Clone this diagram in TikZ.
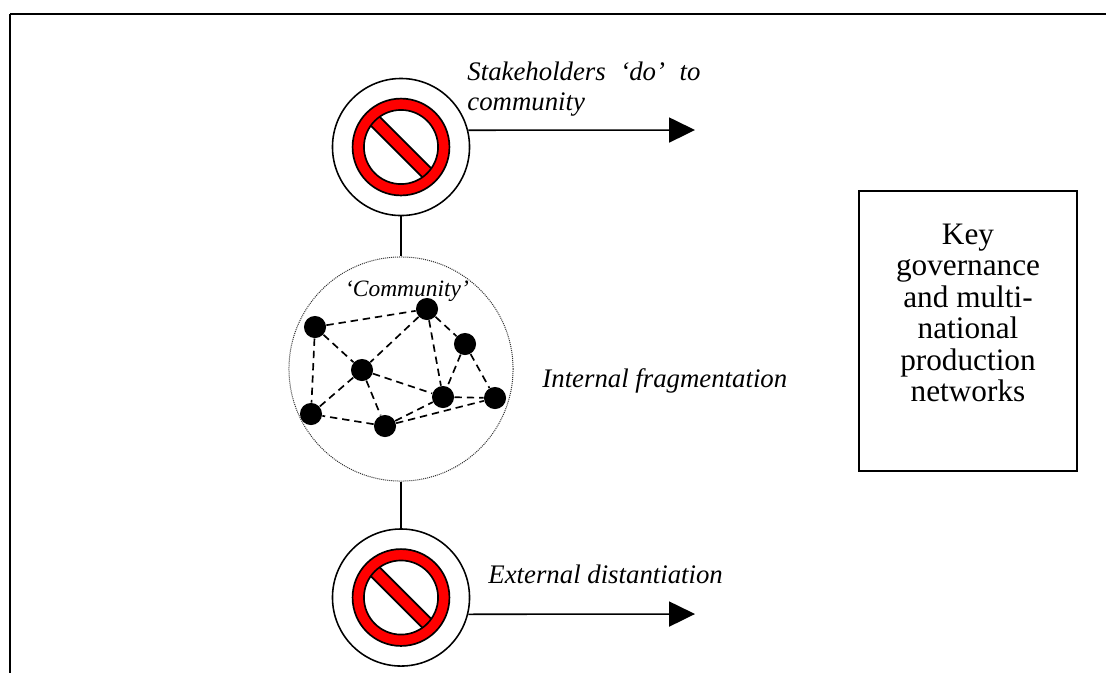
\documentclass[tikz,border=0pt]{standalone}
\usepackage{fontspec}
\setmainfont{Liberation Serif}
\usetikzlibrary{arrows.meta,positioning}

\begin{document}
\begin{tikzpicture}[x=0.448pt,y=-0.448pt,
    sign/.style={draw,circle,fill=white,line width=0.7pt,minimum size=61.4pt,inner sep=0pt},
    commcircle/.style={draw=black!80,circle,line width=0.45pt,dash pattern=on 0.45pt off 0.45pt,minimum size=100.4pt,inner sep=0pt},
    member/.style={circle,fill=black,minimum size=9.9pt,inner sep=0pt},
    tie/.style={line width=0.75pt,dash pattern=on 3.3pt off 2.2pt},
    arr/.style={line width=0.7pt,-{Triangle[length=11.6pt,width=11.2pt]}},
    label/.style={font=\fontsize{12}{13.4}\selectfont\itshape,inner sep=0pt},
    keybox/.style={draw,rectangle,line width=0.6pt,minimum width=97.7pt,minimum height=125.4pt,inner sep=0pt},
    keytext/.style={font=\fontsize{14}{14.1}\selectfont,align=center,inner sep=0pt}]
        \useasboundingbox (0,0) rectangle (1106,673);
        % frame
        \draw[line width=0.9pt] (10,14) -- (1106,14);
        \draw[line width=0.7pt] (10,14) -- (10,673);
        % signs and community
        \node[sign] (top) at (401,147) {};
        \node[commcircle] (comm) at (401,369) {};
        \node[sign] (bot) at (401,597.5) {};
        \coordinate (top_right) at (695,130);
        \coordinate (bot_right) at (695,614);
        \foreach \s in {top,bot}{
            \fill[red,draw=black,line width=0.75pt] (\s) circle (21.7pt);
            \fill[white] (\s) circle (16.6pt);
            \begin{scope}
                \clip (\s) circle (16.6pt);
                \begin{scope}[shift={(\s)},rotate=-45]
                    \fill[red] (-20pt,-2.8pt) rectangle (20pt,2.8pt);
                    \draw[line width=0.75pt] (-20pt,-2.8pt) -- (20pt,-2.8pt) (-20pt,2.8pt) -- (20pt,2.8pt);
                \end{scope}
            \end{scope}
            \draw[line width=0.75pt] (\s) circle (16.6pt);
        }
        \draw[line width=0.7pt] (top) -- (comm);
        \draw[line width=0.7pt] (comm) -- (bot);
        \draw[arr] (top.14.5) -- (top_right);
        \draw[arr] (bot.-14) -- (bot_right);
        % members of the community
        \node[member] (c1) at (315,327) {};
        \node[member] (c2) at (427,309) {};
        \node[member] (c3) at (465,344) {};
        \node[member] (c4) at (362,370) {};
        \node[member] (c5) at (443,397) {};
        \node[member] (c6) at (495,398) {};
        \node[member] (c7) at (311,414) {};
        \node[member] (c8) at (385,426) {};
        \path[tie]
            (c1)
                edge (c2)
                edge (c4)
                edge (c7)
            (c2)
                edge (c4)
                edge (c5)
                edge (c3)
            (c3)
                edge (c5)
                edge (c6)
            (c4)
                edge (c5)
                edge (c7)
                edge (c8)
            (c8)
                edge (c7)
                edge (c5)
                edge (c6)
            (c5)
                edge (c6);
        % texts
        \node[label,anchor=north west,text width=104.4pt,align=justify] (stake) at (467,61.7)
            {Stakeholders `do' to community};
        \node[label,anchor=base,font=\fontsize{10.5}{12}\selectfont\itshape] (comm_name) at (407,296) {`Community'};
        \node[label,anchor=base west] (internal) at (542,387) {Internal fragmentation};
        \node[label,anchor=base west] (external) at (488,583) {External distantiation};
        \node[keybox] (key) at (968,331) {};
        \node[keytext,below=14.8pt of key.north] (key_text)
            {Key\\governance\\and multi-\\national\\production\\networks};
\end{tikzpicture}
\end{document}
